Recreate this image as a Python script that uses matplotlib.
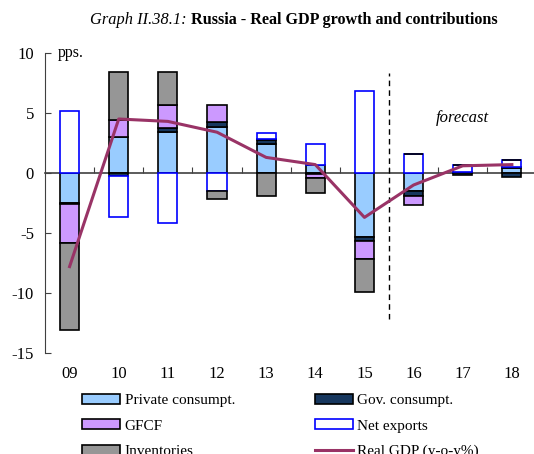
import numpy as np
import matplotlib
matplotlib.use("Agg")
import matplotlib.pyplot as plt

years = [2009, 2010, 2011, 2012, 2013, 2014, 2015, 2016, 2017, 2018]
year_labels = ["09", "10", "11", "12", "13", "14", "15", "16", "17", "18"]

private = [-2.5, 3.0, 3.4, 3.8, 2.4, 0.7, -5.3, -1.5, 0.1, 0.4]
gov = [-0.1, -0.25, 0.35, 0.45, 0.35, -0.05, -0.35, -0.4, -0.2, -0.3]
gfcf = [-3.2, 1.4, 1.9, 1.45, 0.1, -0.35, -1.5, -0.75, 0.0, 0.1]
net_exports = [5.2, -3.4, -4.15, -1.5, 0.5, 1.75, 6.8, 1.55, 0.6, 0.55]
inventories = [-7.3, 4.0, 2.8, -0.7, -1.9, -1.3, -2.75, 0.0, 0.0, 0.0]
gdp = [-7.8, 4.5, 4.3, 3.4, 1.3, 0.7, -3.7, -1.0, 0.6, 0.7]

INK = "#404040"
plt.rcParams.update({"font.family": ["Liberation Serif", "DejaVu Serif"], "font.size": 11,
                     "axes.unicode_minus": False})

fig = plt.figure(figsize=(5.34, 4.54), dpi=100)
ax = fig.add_axes([45 / 534, 1 - 353 / 454, 1 - 45 / 534, 300 / 454])

x = np.arange(len(years))
w = 0.39
series = [("Private consumpt.", private, "#99ccff", "black"),
          ("Gov. consumpt.", gov, "#17375e", "black"),
          ("GFCF", gfcf, "#cc99ff", "black"),
          ("Net exports", net_exports, "white", "#0000ff"),
          ("Inventories", inventories, "#969696", "black")]
pos = np.zeros(len(x)); neg = np.zeros(len(x))
handles = {}
for lab, vals, fc, ec in series:
    v = np.array(vals, float)
    base = np.where(v >= 0, pos, neg)
    b = ax.bar(x, v, w, bottom=base, color=fc, edgecolor=ec, lw=1.2, zorder=2, label=lab)
    handles[lab] = b
    pos = np.where(v >= 0, pos + v, pos); neg = np.where(v < 0, neg + v, neg)

ln, = ax.plot(x, gdp, color="#993366", lw=2.2, zorder=4, label="Real GDP (y-o-y%)")

ax.vlines(6.5, -12.2, 8.3, colors="black", lw=1, linestyles=(0, (4, 3)), zorder=3)
ax.text(8.0, 4.6, "forecast", style="italic", fontsize=12, ha="center", va="center")
ax.text(0.027, 1.0, "pps.", transform=ax.transAxes, fontsize=11.5, ha="left", va="center")

ax.set_xlim(-0.5, 9.45)
ax.set_ylim(-15, 10)
ax.set_yticks([-15, -10, -5, 0, 5, 10])
ax.set_xticks(x, year_labels)
ax.tick_params(axis="x", length=0, pad=9, labelsize=12)
ax.tick_params(axis="y", direction="in", length=4, color=INK, labelsize=12, pad=8)
for s in ["top", "right", "bottom"]:
    ax.spines[s].set_visible(False)
ax.spines["left"].set_color(INK)

zero = ax.secondary_xaxis(0.6)
zero.set_xticks(x[:-1] + 0.5, [""] * (len(x) - 1))
zero.tick_params(length=4, color=INK, direction="out")
for s in zero.spines.values():
    s.set_color(INK); s.set_linewidth(1.2)

order = ["Private consumpt.", "GFCF", "Inventories", "Gov. consumpt.", "Net exports"]
hs = [handles[k] for k in order] + [ln]
ls = order + ["Real GDP (y-o-y%)"]
fig.legend(hs, ls, ncol=2, loc="upper left", bbox_to_anchor=(82 / 534, 1 - 394 / 454),
           frameon=False, borderpad=0, borderaxespad=0, handlelength=2.5, handleheight=0.6,
           handletextpad=0.3, columnspacing=5.2, labelspacing=0.8, fontsize=11)

fig.text(187 / 534, 1 - 20 / 454, "Graph II.38.1:", style="italic", fontsize=11.8, ha="right", va="center")
fig.text(191 / 534, 1 - 20 / 454, "Russia - Real GDP growth and contributions", weight="bold",
         fontsize=11.6, ha="left", va="center")

fig.savefig("out.png", dpi=100)
